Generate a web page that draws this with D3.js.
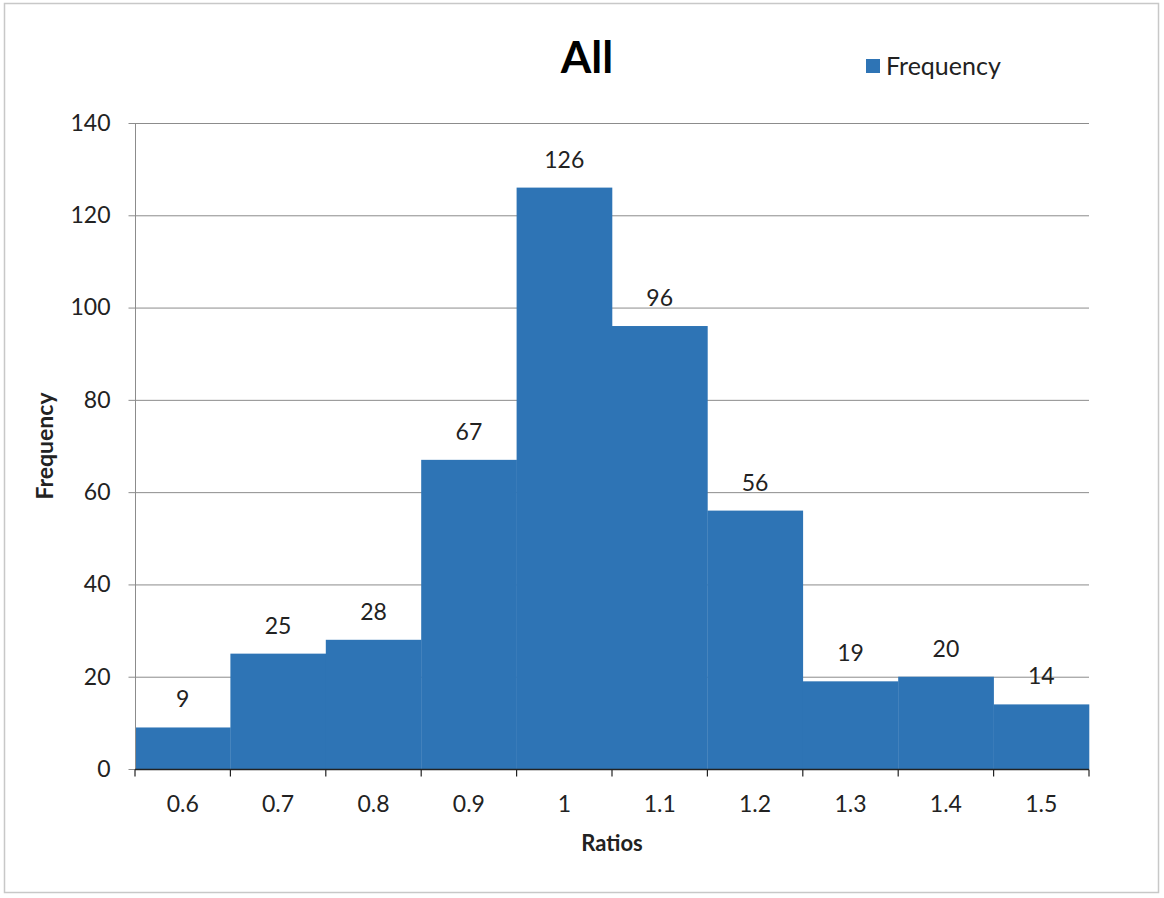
<!DOCTYPE html>
<html><head><meta charset="utf-8">
<script src="https://cdn.jsdelivr.net/npm/d3@7"></script>
<style>
body{margin:0;background:#fff;}
svg{display:block;font-family:Lato,"Open Sans",sans-serif;}
</style></head>
<body>
<svg id="c" width="1164" height="898"></svg>
<script>
const categories = ["0.6","0.7","0.8","0.9","1","1.1","1.2","1.3","1.4","1.5"];
const frequency = [9,25,28,67,126,96,56,19,20,14];
const yTicks = [0,20,40,60,80,100,120,140];

const svg = d3.select("#c");
svg.append("rect").attr("x",4.5).attr("y",3.5).attr("width",1154).attr("height",889)
  .attr("fill","#fff").attr("stroke","#c8c8c8").attr("stroke-width",1.5);

const L=135, R=1089, T=123, B=769;
const x = d3.scaleBand().domain(categories).range([L,R]).paddingInner(0).paddingOuter(0);
const y = d3.scaleLinear().domain([0,140]).range([B,T]);

// gridlines
svg.append("g").selectAll("line").data(yTicks.filter(d=>d>0)).join("line")
  .attr("x1",L).attr("x2",R).attr("y1",d=>y(d)+0.5).attr("y2",d=>y(d)+0.5)
  .attr("stroke","#8c8c8c").attr("stroke-width",1);

// bars
svg.append("g").selectAll("rect").data(frequency).join("rect")
  .attr("x",(d,i)=>x(categories[i])).attr("width",x.bandwidth()+0.3)
  .attr("y",d=>y(d)).attr("height",d=>B-y(d)).attr("fill","#2e74b5");

// y axis
const ya = svg.append("g").attr("transform",`translate(${L+0.5},0)`)
  .call(d3.axisLeft(y).tickValues(yTicks).tickSize(7).tickPadding(18));
ya.select(".domain").attr("stroke","#8c8c8c").attr("d",`M-0,${T}V${B}`);
ya.selectAll(".tick line").attr("stroke","#8c8c8c");
ya.selectAll("text").attr("font-size",23).attr("fill","#222").attr("font-family","Lato,sans-serif");

// x axis
const xEdges = d3.scaleLinear().domain([0,categories.length]).range([L,R]);
const xa = svg.append("g").attr("transform",`translate(0,${B+0.5})`);
xa.append("line").attr("x1",L).attr("x2",R).attr("stroke","#222").attr("stroke-width",1.5);
xa.selectAll("line.t").data(d3.range(categories.length+1)).join("line").attr("class","t")
  .attr("x1",d=>xEdges(d)).attr("x2",d=>xEdges(d)).attr("y1",0).attr("y2",7)
  .attr("stroke","#222").attr("stroke-width",1.2);
xa.selectAll("text").data(categories).join("text")
  .attr("x",d=>x(d)+x.bandwidth()/2).attr("y",42).attr("text-anchor","middle")
  .attr("font-size",23).attr("fill","#222").text(d=>d);

// data labels
svg.append("g").selectAll("text").data(frequency).join("text")
  .attr("x",(d,i)=>x(categories[i])+x.bandwidth()/2).attr("y",d=>y(d)-20)
  .attr("text-anchor","middle").attr("font-size",23).attr("fill","#222").text(d=>d);

// title
svg.append("text").attr("x",587).attr("y",73).attr("text-anchor","middle")
  .attr("font-size",44).attr("font-weight","bold").attr("fill","#000").text("All");

// legend
svg.append("rect").attr("x",866).attr("y",59).attr("width",14).attr("height",14).attr("fill","#2e74b5");
svg.append("text").attr("x",886).attr("y",75).attr("font-size",25).attr("fill","#222").text("Frequency");

// axis titles
svg.append("text").attr("x",612).attr("y",851).attr("text-anchor","middle")
  .attr("font-size",22).attr("font-weight","bold").attr("fill","#222").text("Ratios");
svg.append("text").attr("transform","translate(53,446) rotate(-90)").attr("text-anchor","middle")
  .attr("font-size",23).attr("font-weight","bold").attr("fill","#222").text("Frequency");
</script>
</body></html>
